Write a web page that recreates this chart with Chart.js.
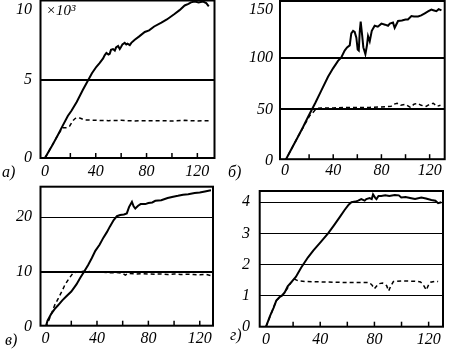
<!DOCTYPE html>
<html>
<head>
<meta charset="utf-8">
<script src="https://cdn.jsdelivr.net/npm/chart.js@4"></script>
<style>
  body { margin: 0; background: #fff; }
  canvas { position: absolute; left: 0; top: 0; }
</style>
</head>
<body>
<canvas id="pa" width="449" height="352"></canvas>
<canvas id="pb" width="449" height="352"></canvas>
<canvas id="pc" width="449" height="352"></canvas>
<canvas id="pd" width="449" height="352"></canvas>
<script>
// shared x axis ticks
const xTickLabels = [0, 40, 80, 120];
const xTickMarks = [20, 40, 60, 80, 100, 120];

// panel а)
const aYTicks = [0, 5, 10];
const aSolidX = [0, 5, 10, 14, 18, 21, 25, 30, 34, 37, 40.5, 43, 45.8, 47, 48.4, 50, 51, 52, 53.6, 55, 56, 57.6, 58.9, 60, 61, 62.8, 64, 65, 66.8, 68, 70.7, 74, 78.6, 82, 86, 91.7, 96, 102, 106, 110, 113, 115, 118, 121, 124.5, 127, 129];
const aSolidY = [0, 0.7, 1.45, 2.08, 2.7, 3.05, 3.6, 4.4, 5.0, 5.45, 5.86, 6.1, 6.4, 6.6, 6.75, 6.65, 6.7, 6.95, 7.0, 6.9, 7.1, 7.2, 7.0, 7.15, 7.3, 7.4, 7.3, 7.35, 7.25, 7.4, 7.6, 7.8, 8.1, 8.2, 8.45, 8.7, 8.9, 9.25, 9.5, 9.8, 9.9, 10.0, 10.05, 10.0, 10.05, 9.95, 9.75];
const aDashX = [0, 5, 10, 14, 17, 19.4, 22, 24, 26, 28, 31, 40, 50, 60, 70, 80, 90, 100, 110, 120, 129];
const aDashY = [0, 0.7, 1.45, 1.95, 1.95, 2.05, 2.4, 2.55, 2.6, 2.55, 2.45, 2.42, 2.4, 2.42, 2.38, 2.4, 2.4, 2.38, 2.42, 2.38, 2.4];

// panel б)
const bYTicks = [0, 50, 100, 150];
const bSolidX = [0, 5, 10, 15, 19, 25, 30, 35.7, 40, 44, 46.7, 49.5, 51.5, 53.7, 55, 56.5, 57.8, 59.2, 60.3, 61.2, 62, 62.8, 64, 65, 66.7, 68, 68.9, 70.3, 72, 74.4, 77, 80, 83, 85.5, 87, 89.6, 91, 93.8, 97, 100, 102, 104.9, 107, 110.4, 113, 116, 119, 121.5, 123, 125.6, 127.5, 129.8];
const bSolidY = [0, 11, 22, 33, 42.5, 56, 68, 81.6, 90, 97, 100.4, 107, 110, 112, 123.6, 126, 125, 119.5, 108, 107, 125, 135, 122, 110, 103.5, 112, 121, 116, 126, 131, 130, 133, 132, 131, 133, 134, 129, 135.6, 136, 137, 137, 140.4, 140, 140, 141, 143, 145, 146.6, 146, 145, 147, 145.8];
const bDashX = [0, 10, 20.5, 22.5, 24.6, 27, 30, 40, 50, 60, 70, 80, 88, 90, 93, 96, 100, 104, 107, 110, 113, 117, 120, 123, 126, 129];
const bDashY = [0, 22, 44, 46, 49, 51, 51.5, 51.5, 52, 52, 52, 52.5, 53, 55, 56, 54, 55, 52, 55, 56, 54, 53, 55, 56, 53, 54];

// panel в)
const cYTicks = [0, 10, 20];
const cSolidX = [0, 1.5, 4.5, 7, 9.7, 13, 16, 20, 24, 27, 29.7, 33, 36, 38.7, 42, 45, 47.7, 50, 53, 55.5, 58, 61, 63.2, 65, 67.2, 68.5, 69.8, 72, 74, 77.6, 80, 83, 85.4, 90, 95, 98.4, 103, 107, 111, 116, 120, 124, 128.7];
const cSolidY = [0, 1.2, 2.5, 3.3, 4.0, 4.9, 5.6, 6.5, 7.8, 9.0, 10.0, 11.3, 12.6, 13.9, 15.0, 16.3, 17.3, 18.3, 19.5, 20.2, 20.4, 20.5, 20.7, 21.9, 22.8, 22.0, 21.6, 22.1, 22.4, 22.4, 22.6, 22.7, 23.0, 23.1, 23.5, 23.7, 23.9, 24.1, 24.2, 24.4, 24.5, 24.7, 24.9];
const cDashX = [0, 2, 4.5, 7, 10, 13, 15, 18, 21.5, 25, 30, 35, 40, 45, 50, 55, 60, 62, 64, 70, 75, 80, 85, 90, 95, 100, 105, 110, 115, 120, 125, 128.7];
const cDashY = [0, 1.0, 2.4, 4.0, 5.3, 6.7, 7.7, 8.8, 9.9, 10.1, 10.2, 10.1, 10.05, 10.0, 9.9, 9.95, 9.8, 9.5, 9.8, 9.7, 9.75, 9.7, 9.65, 9.7, 9.6, 9.7, 9.6, 9.65, 9.6, 9.55, 9.6, 9.4];

// panel г)
const dYTicks = [0, 1, 2, 3, 4];
const dSolidX = [0, 3, 5.5, 7.6, 10, 12, 13.8, 16, 18.7, 22, 26, 31, 35, 40, 45.8, 50, 54.4, 58, 61, 63, 66, 68, 70.3, 72.8, 74, 76.5, 78, 79, 80.5, 81.5, 83, 85, 88, 91, 95, 98, 99.8, 103, 107.2, 110, 114.6, 118, 122, 125, 127, 129.4];
const dSolidY = [0, 0.35, 0.6, 0.84, 0.95, 1.0, 1.1, 1.3, 1.43, 1.6, 1.9, 2.23, 2.45, 2.7, 3.0, 3.25, 3.52, 3.75, 3.92, 4.0, 4.02, 4.05, 4.1, 4.05, 4.1, 4.13, 4.1, 4.25, 4.15, 4.1, 4.2, 4.2, 4.22, 4.2, 4.23, 4.22, 4.15, 4.17, 4.13, 4.1, 4.15, 4.12, 4.07, 4.05, 3.97, 4.0];
const dDashX = [0, 7.6, 13.8, 18.7, 21, 24, 30, 40, 50, 60, 70, 76, 78, 80, 81.5, 83, 86, 89, 90.5, 92, 94, 100, 110, 114, 116, 118.3, 120, 121.5, 125, 127];
const dDashY = [0, 0.84, 1.1, 1.43, 1.53, 1.47, 1.45, 1.44, 1.43, 1.42, 1.42, 1.42, 1.35, 1.22, 1.3, 1.38, 1.4, 1.32, 1.15, 1.3, 1.45, 1.47, 1.46, 1.44, 1.35, 1.18, 1.35, 1.43, 1.46, 1.45];

const FONT = '"Liberation Serif", "DejaVu Serif", serif';

function pts(xs, ys) {
    return xs.map((x, i) => ({ x: x, y: ys[i] }));
}

// frame, inward x ticks and italic labels
const panelDeco = {
    id: 'panelDeco',
    afterDraw(chart, args, o) {
        const ctx = chart.ctx;
        const a = chart.chartArea;
        const xs = chart.scales.x, ys = chart.scales.y;
        ctx.save();
        ctx.strokeStyle = '#000';
        ctx.lineWidth = 2;
        ctx.strokeRect(a.left, a.top, a.right - a.left, a.bottom - a.top);
        ctx.lineWidth = 1.5;
        xTickMarks.forEach(v => {
            const px = xs.getPixelForValue(v);
            ctx.beginPath();
            ctx.moveTo(px, a.bottom);
            ctx.lineTo(px, a.bottom - 5);
            ctx.stroke();
        });
        ctx.fillStyle = '#000';
        ctx.font = 'italic 16px ' + FONT;
        ctx.textBaseline = 'middle';
        ctx.textAlign = 'center';
        xTickLabels.forEach(v => {
            ctx.fillText(String(v), xs.getPixelForValue(v), a.bottom + o.xLabelGap);
        });
        ctx.textAlign = 'right';
        o.yTicks.forEach(v => {
            const py = Math.max(ys.getPixelForValue(v), a.top + 9);
            ctx.fillText(String(v), a.left - o.yLabelGap, py);
        });
        ctx.textAlign = 'left';
        ctx.fillText(o.letter, o.letterX, a.bottom + o.letterGap);
        if (o.note) {
            ctx.font = 'italic 15px ' + FONT;
            ctx.fillText(o.note, a.left + 5.5, a.top + 11);
        }
        ctx.restore();
    }
};

function makePanel(id, p) {
    return new Chart(document.getElementById(id), {
        type: 'line',
        data: {
            datasets: [
                {
                    data: pts(p.dashX, p.dashY),
                    borderColor: '#000',
                    borderWidth: 1.5,
                    borderDash: [4, 3],
                    pointRadius: 0,
                    tension: 0,
                },
                {
                    data: pts(p.solidX, p.solidY),
                    borderColor: '#000',
                    borderWidth: 2,
                    pointRadius: 0,
                    tension: 0,
                },
            ],
        },
        options: {
            responsive: false,
            animation: false,
            events: [],
            layout: { padding: p.pad },
            plugins: {
                legend: { display: false },
                tooltip: { enabled: false },
                panelDeco: p.deco,
            },
            scales: {
                x: {
                    type: 'linear',
                    min: p.xMin,
                    max: p.xMax,
                    grid: { display: false },
                    border: { display: false },
                    ticks: { display: false },
                    afterFit: s => { s.height = 0; },
                },
                y: {
                    type: 'linear',
                    min: p.yMin,
                    max: p.yMax,
                    afterBuildTicks: s => { s.ticks = p.deco.yTicks.map(v => ({ value: v })); },
                    grid: {
                        drawTicks: false,
                        color: c => (c.tick && p.gridWidth[c.tick.value]) ? '#000' : 'rgba(0,0,0,0)',
                        lineWidth: c => (c.tick && p.gridWidth[c.tick.value]) || 0,
                    },
                    border: { display: false },
                    ticks: { display: false },
                    afterFit: s => { s.width = 0; },
                },
            },
        },
        plugins: [panelDeco],
    });
}

makePanel('pa', {
    solidX: aSolidX, solidY: aSolidY, dashX: aDashX, dashY: aDashY,
    xMin: -3.5, xMax: 133.5, yMin: 0, yMax: 10.12,
    pad: { left: 40.5, top: 0.5, right: 234.5, bottom: 194 },
    gridWidth: { 5: 2 },
    deco: { yTicks: aYTicks, letter: 'а)', letterX: 2, letterGap: 15, xLabelGap: 14, yLabelGap: 8.5, note: '×10³' },
});

makePanel('pb', {
    solidX: bSolidX, solidY: bSolidY, dashX: bDashX, dashY: bDashY,
    xMin: -4.15, xMax: 132.5, yMin: 1.9, yMax: 154.9,
    pad: { left: 280, top: 1, right: 4.3, bottom: 192.8 },
    gridWidth: { 50: 2, 100: 2 },
    deco: { yTicks: bYTicks, letter: 'б)', letterX: 228, letterGap: 14, xLabelGap: 12, yLabelGap: 7 },
});

makePanel('pc', {
    solidX: cSolidX, solidY: cSolidY, dashX: cDashX, dashY: cDashY,
    xMin: -3.97, xMax: 130.3, yMin: 0.29, yMax: 25.56,
    pad: { left: 40.5, top: 186.7, right: 236, bottom: 26.3 },
    gridWidth: { 10: 2, 20: 1 },
    deco: { yTicks: cYTicks, letter: 'в)', letterX: 5, letterGap: 15, xLabelGap: 13, yLabelGap: 8.5 },
});

makePanel('pd', {
    solidX: dSolidX, solidY: dSolidY, dashX: dDashX, dashY: dDashY,
    xMin: -4.65, xMax: 130.6, yMin: 0, yMax: 4.36,
    pad: { left: 259.7, top: 191, right: 6, bottom: 25.3 },
    gridWidth: { 1: 1, 2: 1, 3: 1, 4: 1 },
    deco: { yTicks: dYTicks, letter: 'г)', letterX: 230, letterGap: 9, xLabelGap: 13, yLabelGap: 9.7 },
});
</script>
</body>
</html>
